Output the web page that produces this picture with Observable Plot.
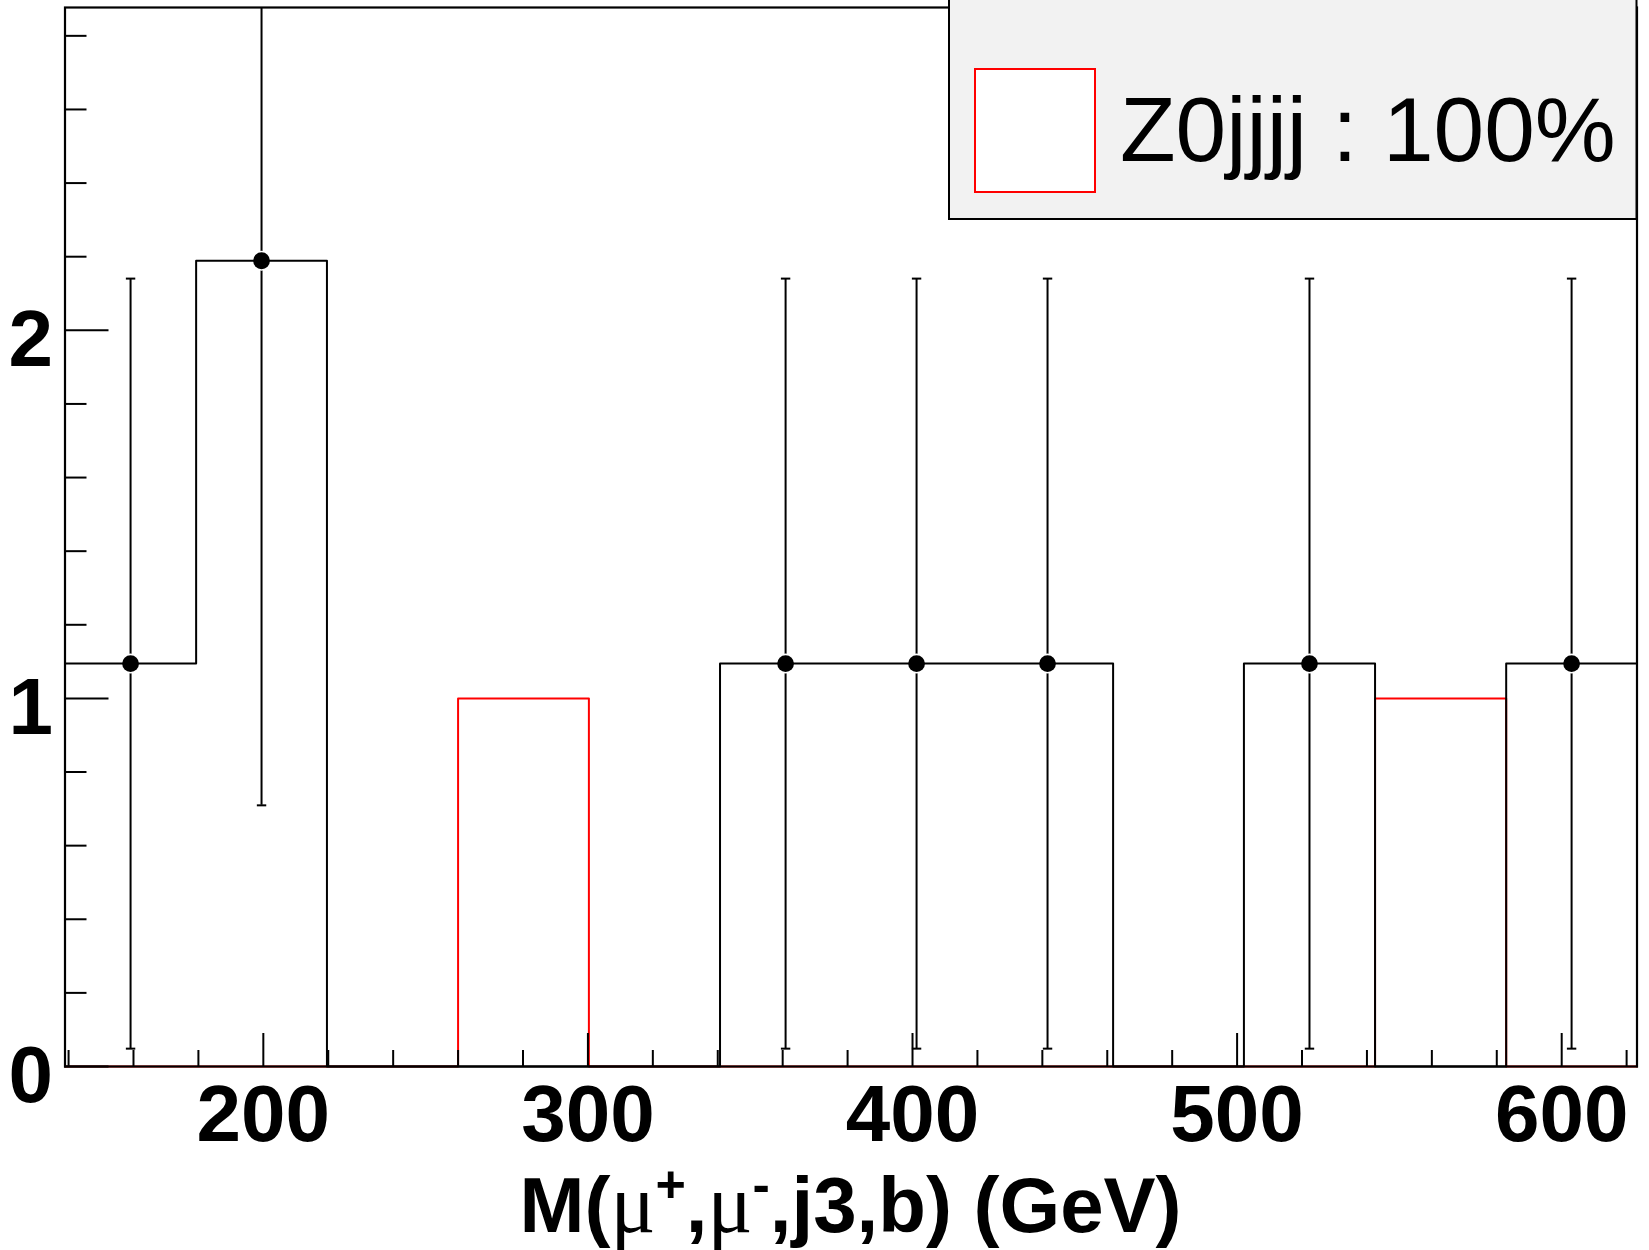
<!DOCTYPE html>
<html>
<head>
<meta charset="utf-8">
<script src="https://cdn.jsdelivr.net/npm/d3@7"></script>
<script src="https://cdn.jsdelivr.net/npm/@observablehq/plot@0.6"></script>
<style>
  html, body { margin: 0; padding: 0; background: white; }
  #chart svg { display: block; overflow: hidden; }
</style>
</head>
<body>
<div id="chart"></div>
<script>
// ---- data ----
const binEdges = [138.9, 179.3, 219.6, 260.0, 300.3, 340.7, 381.1, 421.4, 461.8, 502.1, 542.5, 582.9, 623.2];
const dataValues = [1.0945, 2.189, 0, 0, 0, 1.0945, 1.0945, 1.0945, 0, 1.0945, 0, 1.0945];
const dataErrors = [1.046, 1.4795, 0, 0, 0, 1.046, 1.046, 1.046, 0, 1.046, 0, 1.046];
const z0jjjjValues = [0, 0, 0, 1, 0, 0, 0, 0, 0, 0, 1, 0];
const xMajorTicks = [200, 300, 400, 500, 600];
const xMinorTicks = [140, 160, 180, 220, 240, 260, 280, 320, 340, 360, 380, 420, 440, 460, 480, 520, 540, 560, 580, 620];
const yMajorTicks = [0, 1, 2];
const yMinorTicks = [0.2, 0.4, 0.6, 0.8, 1.2, 1.4, 1.6, 1.8, 2.2, 2.4, 2.6, 2.8];
const yMax = 2.877;
const legendLabels = ["Z0jjjj : 100%"];
const legendColors = ["#ff0000"];

// ---- layout ----
const W = 1649, H = 1250;
const mL = 64.5, mR = 12.5, mT = 7, mB = 184;
const frameW = W - mL - mR, frameH = H - mT - mB;

function outline(values) {
  const pts = [{x: binEdges[0], y: 0}];
  values.forEach((v, i) => pts.push({x: binEdges[i], y: v}));
  pts.push({x: binEdges[values.length], y: 0});
  return pts;
}

const points = dataValues
  .map((v, i) => ({x: (binEdges[i] + binEdges[i + 1]) / 2, y: v, lo: v - dataErrors[i], hi: v + dataErrors[i]}))
  .filter(d => d.y > 0);

const capSymbol = {
  draw(ctx, size) {
    const r = Math.sqrt(size / Math.PI);
    ctx.moveTo(-r, 0);
    ctx.lineTo(r, 0);
  }
};

const chart = Plot.plot({
  width: W,
  height: H,
  marginLeft: mL,
  marginRight: mR,
  marginTop: mT,
  marginBottom: mB,
  x: {domain: [binEdges[0], binEdges[binEdges.length - 1]], label: null},
  y: {domain: [0, yMax], clamp: true, label: null},
  style: {fontFamily: "'Liberation Sans', Arial, Helvetica, sans-serif", background: "white", color: "black"},
  marks: [
    Plot.line(outline(z0jjjjValues), {x: "x", y: "y", curve: "step-after", stroke: legendColors[0], strokeWidth: 2}),
    Plot.ruleX(points, {x: "x", y1: "lo", y2: "hi", stroke: "black", strokeWidth: 2}),
    Plot.dot(points.filter(d => d.lo >= 0), {x: "x", y: "lo", symbol: capSymbol, r: 4.7, stroke: "black", strokeWidth: 2, fill: "none"}),
    Plot.dot(points.filter(d => d.hi <= yMax), {x: "x", y: "hi", symbol: capSymbol, r: 4.7, stroke: "black", strokeWidth: 2, fill: "none"}),
    Plot.dot(points, {x: "x", y: "y", r: 10, fill: "white", stroke: "none"}),
    Plot.line(outline(dataValues), {x: "x", y: "y", curve: "step-after", stroke: "black", strokeWidth: 2}),
    Plot.dot(points, {x: "x", y: "y", r: 8.4, fill: "black", stroke: "none"}),
    Plot.tickX(xMajorTicks, {x: d => d, insetTop: frameH - 33, stroke: "black", strokeWidth: 2}),
    Plot.tickX(xMinorTicks, {x: d => d, insetTop: frameH - 16, stroke: "black", strokeWidth: 2}),
    Plot.tickY(yMajorTicks, {y: d => d, insetRight: frameW - 44, stroke: "black", strokeWidth: 2}),
    Plot.tickY(yMinorTicks, {y: d => d, insetRight: frameW - 22, stroke: "black", strokeWidth: 2}),
    Plot.frame({stroke: "black", strokeWidth: 2.2}),
    Plot.axisX(xMajorTicks, {tickSize: 0, tickPadding: 18, fontSize: 80, fontWeight: "bold", tickFormat: d => String(d), label: null}),
    Plot.axisY(yMajorTicks, {tickSize: 0, tickPadding: 12, fontSize: 80, fontWeight: "bold", dy: 10, tickFormat: d => String(d), label: null})
  ]
});

document.getElementById("chart").appendChild(chart);

// ---- legend (ROOT-style box in the top-right corner) ----
const svg = d3.select(chart);
const frameRight = W - mR;
const lg = svg.append("g").attr("class", "legend").attr("text-anchor", "start");
lg.append("rect")
  .attr("x", 949).attr("y", -20)
  .attr("width", frameRight - 949).attr("height", 219 + 20)
  .attr("fill", "#f2f2f2").attr("stroke", "black").attr("stroke-width", 2);
legendLabels.forEach((label, i) => {
  lg.append("rect")
    .attr("x", 975).attr("y", 69)
    .attr("width", 120).attr("height", 123)
    .attr("fill", "white").attr("stroke", legendColors[i]).attr("stroke-width", 2);
  lg.append("text")
    .attr("x", 1120).attr("y", 161)
    .attr("text-anchor", "start")
    .attr("font-family", "'Liberation Sans', Arial, Helvetica, sans-serif")
    .attr("font-size", 91)
    .attr("fill", "black")
    .text(label);
});

// ---- x axis title with Greek letters and superscripts ----
const title = svg.append("text")
  .attr("x", mL + frameW / 2).attr("y", 1232)
  .attr("text-anchor", "middle")
  .attr("font-family", "'Liberation Sans', Arial, Helvetica, sans-serif")
  .attr("font-weight", "bold")
  .attr("font-size", 78)
  .attr("fill", "black");
title.append("tspan").text("M(");
title.append("tspan").attr("font-family", "'Liberation Serif', 'Times New Roman', serif").attr("font-weight", "normal").attr("font-size", 84).text("μ");
title.append("tspan").attr("font-size", 52).attr("dy", -30).text("+");
title.append("tspan").attr("dy", 30).text(",");
title.append("tspan").attr("font-family", "'Liberation Serif', 'Times New Roman', serif").attr("font-weight", "normal").attr("font-size", 84).text("μ");
title.append("tspan").attr("font-size", 52).attr("dy", -30).text("-");
title.append("tspan").attr("dy", 30).text(",j3,b) (GeV)");
</script>
</body>
</html>
